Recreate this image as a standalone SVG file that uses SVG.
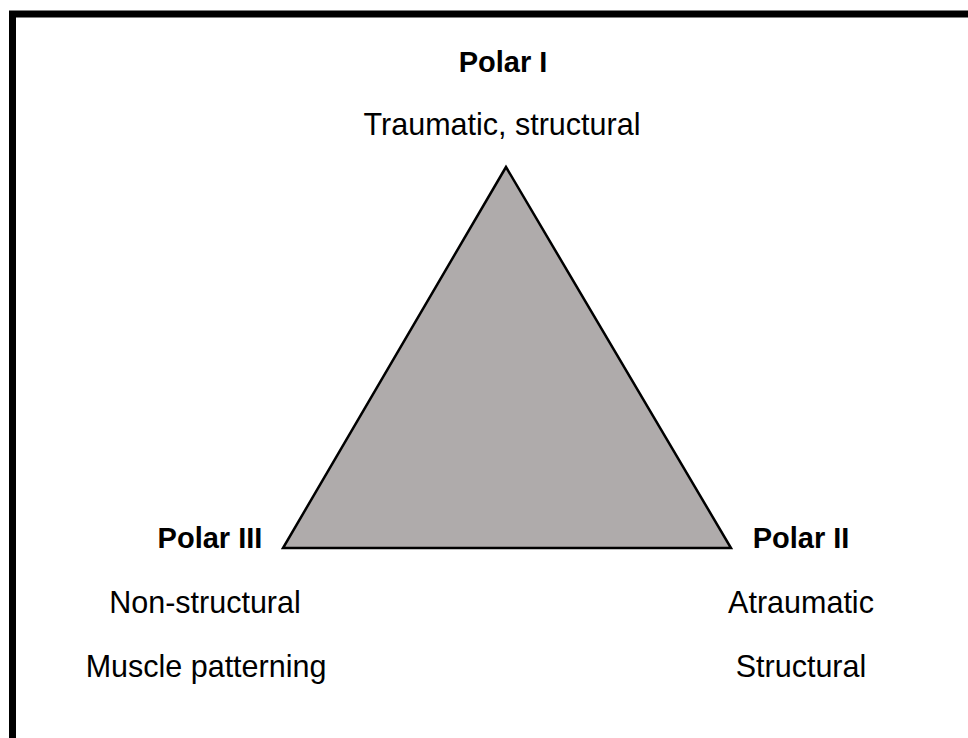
<svg xmlns="http://www.w3.org/2000/svg" width="968" height="738" viewBox="0 0 968 738">
  <style>
    text { font-family: "Liberation Sans", Arial, sans-serif; fill: #000; text-anchor: middle; }
    .title { font-weight: bold; font-size: 29px; }
    .desc { font-size: 30.5px; }
  </style>
  <rect x="0" y="0" width="968" height="738" fill="#fff"/>
  <rect x="12.5" y="14" width="1000" height="800" fill="none" stroke="#000" stroke-width="7"/>
  <g id="triangle">
    <polygon points="506,167 283,548 731,548" fill="#AFABAB" stroke="#000" stroke-width="2.5" stroke-linejoin="miter"/>
  </g>
  <g id="polar1">
    <text class="title" x="503" y="72">Polar I</text>
    <text class="desc" x="502" y="135">Traumatic, structural</text>
  </g>
  <g id="polar3">
    <text class="title" x="210" y="548">Polar III</text>
    <text class="desc" x="205" y="613">Non-structural</text>
    <text class="desc" x="206" y="677">Muscle patterning</text>
  </g>
  <g id="polar2">
    <text class="title" x="801" y="548">Polar II</text>
    <text class="desc" x="801" y="613">Atraumatic</text>
    <text class="desc" x="801" y="677">Structural</text>
  </g>
  <g id="connectors"></g>
</svg>
